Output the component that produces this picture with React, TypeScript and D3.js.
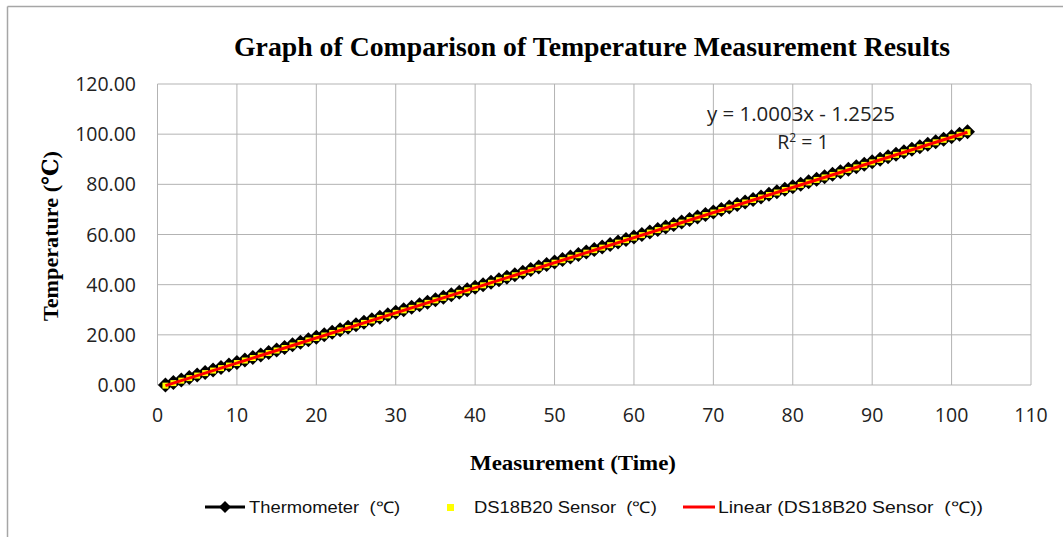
import React from "react";
import * as d3 from "d3";

const thermometer: number[] = [
  0, 1, 2, 3, 4, 5, 6, 7, 8, 9, 10, 11, 12, 13, 14, 15, 16, 17, 18, 19,
  20, 21, 22, 23, 24, 25, 26, 27, 28, 29, 30, 31, 32, 33, 34, 35, 36, 37, 38, 39,
  40, 41, 42, 43, 44, 45, 46, 47, 48, 49, 50, 51, 52, 53, 54, 55, 56, 57, 58, 59,
  60, 61, 62, 63, 64, 65, 66, 67, 68, 69, 70, 71, 72, 73, 74, 75, 76, 77, 78, 79,
  80, 81, 82, 83, 84, 85, 86, 87, 88, 89, 90, 91, 92, 93, 94, 95, 96, 97, 98, 99,
  100, 101,
];

const sensor: number[] = [
  -0.25, 0.75, 1.74, 2.75, 3.76, 4.75, 5.75, 6.74, 7.75, 8.75,
  9.76, 10.75, 11.75, 12.74, 13.75, 14.75, 15.76, 16.75, 17.75, 18.75,
  19.74, 20.75, 21.76, 22.75, 23.75, 24.75, 25.74, 26.75, 27.75, 28.76,
  29.75, 30.75, 31.75, 32.74, 33.75, 34.75, 35.76, 36.75, 37.75, 38.74,
  39.75, 40.75, 41.76, 42.75, 43.75, 44.75, 45.74, 46.75, 47.76, 48.75,
  49.75, 50.75, 51.74, 52.75, 53.75, 54.76, 55.75, 56.75, 57.74, 58.75,
  59.75, 60.76, 61.75, 62.75, 63.75, 64.74, 65.75, 66.76, 67.75, 68.75,
  69.75, 70.74, 71.75, 72.75, 73.76, 74.75, 75.75, 76.74, 77.75, 78.75,
  79.76, 80.75, 81.75, 82.75, 83.74, 84.75, 85.76, 86.75, 87.75, 88.75,
  89.74, 90.75, 91.75, 92.76, 93.75, 94.75, 95.74, 96.75, 97.75, 98.76,
  99.75, 100.78,
];

const xTicks: number[] = [0, 10, 20, 30, 40, 50, 60, 70, 80, 90, 100, 110];
const yTicks: number[] = [0, 20, 40, 60, 80, 100, 120];

const title = "Graph of Comparison of Temperature Measurement Results";
const xTitle = "Measurement (Time)";
const yTitle = "Temperature (\u2103)";
const legendLabels = ["Thermometer  (\u2103)", "DS18B20 Sensor  (\u2103)", "Linear (DS18B20 Sensor  (\u2103))"];
const eqText = "y = 1.0003x - 1.2525";

export default function App() {
  const W = 1063, H = 537;
  const x = d3.scaleLinear().domain([0, 110]).range([157.5, 1031]);
  const y = d3.scaleLinear().domain([0, 120]).range([385, 84]);

  const xs = sensor.map((_, i) => i + 1);
  const mx = d3.mean(xs) as number;
  const my = d3.mean(sensor) as number;
  let num = 0, den = 0;
  xs.forEach((xv, i) => { num += (xv - mx) * (sensor[i] - my); den += (xv - mx) ** 2; });
  const slope = num / den;
  const intercept = my - slope * mx;
  const x0 = xs[0], x1 = xs[xs.length - 1];

  const thermoLine = d3.line<number>().x((_, i) => x(i + 1)).y((d) => y(d))(thermometer) || "";
  const r = 7.5;
  const diamond = `M0,${-r}L${r},0L0,${r}L${-r},0Z`;

  const tickFont = "'Open Sans', 'Noto Sans', sans-serif";
  const serif = "'Liberation Serif', 'DejaVu Serif', serif";
  const legFont = "'Liberation Sans', Arial, sans-serif";
  const pre: React.CSSProperties = { whiteSpace: "pre" };

  return (
    <svg width={W} height={H} style={{ position: "absolute", left: 0, top: 0, background: "#fff" }}>
      <rect x={0} y={0} width={W} height={H} fill="#fff" />
      <line x1={7.5} y1={6.5} x2={W} y2={6.5} stroke="#a6a6a6" strokeWidth={1.5} />
      <line x1={7.5} y1={6.5} x2={7.5} y2={H} stroke="#a6a6a6" strokeWidth={1.5} />

      <text x={592} y={56} textAnchor="middle" fontFamily={serif} fontWeight="bold" fontSize={27}
        textLength={716} lengthAdjust="spacingAndGlyphs">{title}</text>

      {yTicks.map((t) => (
        <line key={"gy" + t} x1={x(0)} x2={x(110)} y1={y(t)} y2={y(t)} stroke="#b3b3b3" strokeWidth={1} />
      ))}
      {xTicks.map((t) => (
        <line key={"gx" + t} x1={x(t)} x2={x(t)} y1={y(120)} y2={y(0)} stroke="#b3b3b3" strokeWidth={1} />
      ))}

      {yTicks.map((t) => (
        <text key={"ly" + t} x={136} y={y(t) + 7} textAnchor="end" fontFamily={tickFont} fontSize={19.5} fill="#222">
          {t.toFixed(2)}
        </text>
      ))}
      {xTicks.map((t) => (
        <text key={"lx" + t} x={x(t)} y={422} textAnchor="middle" fontFamily={tickFont} fontSize={19.5} fill="#222">
          {t}
        </text>
      ))}

      <text transform={`translate(58,236) rotate(-90)`} textAnchor="middle" fontFamily={serif} fontWeight="bold" fontSize={22}
        textLength={170} lengthAdjust="spacingAndGlyphs">
        {yTitle}
      </text>
      <text x={573} y={470} textAnchor="middle" fontFamily={serif} fontWeight="bold" fontSize={22}
        textLength={206} lengthAdjust="spacingAndGlyphs">{xTitle}</text>

      <path d={thermoLine} fill="none" stroke="#000" strokeWidth={3} />
      {thermometer.map((v, i) => (
        <path key={"t" + i} d={diamond} transform={`translate(${x(i + 1)},${y(v)})`} fill="#000" />
      ))}
      {sensor.map((v, i) => (
        <rect key={"s" + i} x={x(i + 1) - 3} y={y(v) - 3} width={6} height={6} fill="#ffff00" />
      ))}
      <line x1={x(x0)} y1={y(slope * x0 + intercept)} x2={x(x1)} y2={y(slope * x1 + intercept)} stroke="#ff0000" strokeWidth={3} />

      <text x={801} y={121} textAnchor="middle" fontFamily={tickFont} fontSize={19.5} fill="#222"
        textLength={188} lengthAdjust="spacingAndGlyphs">{eqText}</text>
      <text x={803} y={149} textAnchor="middle" fontFamily={tickFont} fontSize={19.5} fill="#222">
        R<tspan dy={-7} fontSize={12}>2</tspan><tspan dy={7}> = 1</tspan>
      </text>

      <line x1={205} x2={245} y1={507} y2={507} stroke="#000" strokeWidth={3} />
      <path d={`M0,-6L6,0L0,6L-6,0Z`} transform="translate(225,507)" fill="#000" />
      <text x={249} y={513} fontFamily={legFont} fontSize={16} fill="#111" style={pre}
        textLength={151} lengthAdjust="spacingAndGlyphs">{legendLabels[0]}</text>
      <rect x={447} y={504} width={7} height={7} fill="#ffff00" />
      <text x={474} y={513} fontFamily={legFont} fontSize={16} fill="#111" style={pre}
        textLength={183} lengthAdjust="spacingAndGlyphs">{legendLabels[1]}</text>
      <line x1={683} x2={715} y1={507} y2={507} stroke="#ff0000" strokeWidth={3} />
      <text x={718} y={513} fontFamily={legFont} fontSize={16} fill="#111" style={pre}
        textLength={265} lengthAdjust="spacingAndGlyphs">{legendLabels[2]}</text>
    </svg>
  );
}
